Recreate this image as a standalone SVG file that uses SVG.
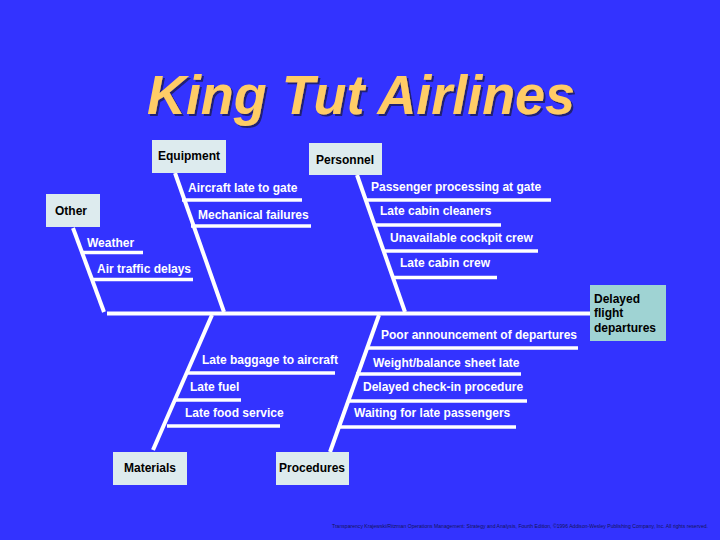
<svg xmlns="http://www.w3.org/2000/svg" width="720" height="540" viewBox="0 0 720 540">
<defs>
<filter id="shadow" x="-5%" y="-20%" width="110%" height="140%">
<feDropShadow dx="2" dy="2" stdDeviation="0.6" flood-color="#1a1a66" flood-opacity="0.9"/>
</filter>
<style>
.bg{fill:#3333FF}
.title{font-family:"Liberation Sans",Arial,sans-serif;font-size:55px;font-weight:bold;font-style:italic;fill:#FFCC66}
.cat rect{fill:#DDEBEE}
.eff rect{fill:#9FD3D3}
.lbl{font-family:"Liberation Sans",Arial,sans-serif;font-size:12px;font-weight:bold;fill:#000000}
.cause text{font-family:"Liberation Sans",Arial,sans-serif;font-size:12px;font-weight:bold;fill:#FFFFFF}
.cause line{stroke:#FFFFFF;stroke-width:3.5}
.bone{stroke:#FFFFFF;stroke-width:4;fill:none}
.foot{font-family:"Liberation Sans",Arial,sans-serif;font-size:5px;fill:#14145a}
</style>
</defs>
<rect class="bg" x="0" y="0" width="720" height="540"/>

<g id="title">
<text class="title" x="147" y="113.5" textLength="428" lengthAdjust="spacingAndGlyphs" filter="url(#shadow)">King Tut Airlines</text>
</g>

<g id="connectors">
<line class="bone" x1="107" y1="313.5" x2="590" y2="313.5"/>
<line class="bone" x1="73" y1="228" x2="104" y2="312"/>
<line class="bone" x1="175" y1="173" x2="224" y2="312"/>
<line class="bone" x1="357" y1="175" x2="405" y2="312"/>
<line class="bone" x1="212" y1="315" x2="153" y2="450"/>
<line class="bone" x1="379" y1="315" x2="330" y2="452"/>
</g>

<g id="cat-equipment" class="cat">
<rect x="152" y="140" width="74" height="33"/>
<text class="lbl" x="158" y="160">Equipment</text>
</g>
<g id="cat-personnel" class="cat">
<rect x="309" y="143" width="73" height="32"/>
<text class="lbl" x="316" y="164">Personnel</text>
</g>
<g id="cat-other" class="cat">
<rect x="46" y="194" width="54" height="33"/>
<text class="lbl" x="55" y="215">Other</text>
</g>
<g id="cat-materials" class="cat">
<rect x="113" y="452" width="74" height="33"/>
<text class="lbl" x="124" y="472">Materials</text>
</g>
<g id="cat-procedures" class="cat">
<rect x="276" y="452" width="73" height="33"/>
<text class="lbl" x="279" y="472">Procedures</text>
</g>

<g id="effect" class="eff">
<rect x="590" y="285" width="76" height="56"/>
<text class="lbl" x="594" y="303">Delayed</text>
<text class="lbl" x="594" y="317">flight</text>
<text class="lbl" x="594" y="331.5">departures</text>
</g>

<g id="c-aircraft-late" class="cause">
<line x1="182" y1="200" x2="302" y2="200"/>
<text x="188" y="192">Aircraft late to gate</text>
</g>
<g id="c-mechanical" class="cause">
<line x1="191" y1="226" x2="311" y2="226"/>
<text x="198" y="219">Mechanical failures</text>
</g>
<g id="c-weather" class="cause">
<line x1="82" y1="252.5" x2="143" y2="252.5"/>
<text x="87" y="247">Weather</text>
</g>
<g id="c-air-traffic" class="cause">
<line x1="92" y1="279.5" x2="193" y2="279.5"/>
<text x="97" y="273">Air traffic delays</text>
</g>
<g id="c-passenger" class="cause">
<line x1="365" y1="200" x2="551" y2="200"/>
<text x="371" y="191">Passenger processing at gate</text>
</g>
<g id="c-cleaners" class="cause">
<line x1="374" y1="225" x2="501" y2="225"/>
<text x="380" y="215">Late cabin cleaners</text>
</g>
<g id="c-cockpit" class="cause">
<line x1="383" y1="251" x2="538" y2="251"/>
<text x="390" y="242">Unavailable cockpit crew</text>
</g>
<g id="c-cabin-crew" class="cause">
<line x1="392" y1="277.5" x2="497" y2="277.5"/>
<text x="400" y="267">Late cabin crew</text>
</g>
<g id="c-poor-announcement" class="cause">
<line x1="366" y1="348" x2="578" y2="348"/>
<text x="381" y="339">Poor announcement of departures</text>
</g>
<g id="c-weight" class="cause">
<line x1="356" y1="374" x2="521" y2="374"/>
<text x="373" y="367">Weight/balance sheet late</text>
</g>
<g id="c-checkin" class="cause">
<line x1="347" y1="401" x2="527" y2="401"/>
<text x="363" y="391">Delayed check-in procedure</text>
</g>
<g id="c-waiting" class="cause">
<line x1="338" y1="427" x2="516" y2="427"/>
<text x="354" y="417">Waiting for late passengers</text>
</g>
<g id="c-baggage" class="cause">
<line x1="187" y1="373" x2="335" y2="373"/>
<text x="202" y="364">Late baggage to aircraft</text>
</g>
<g id="c-fuel" class="cause">
<line x1="176" y1="400" x2="241" y2="400"/>
<text x="190" y="391">Late fuel</text>
</g>
<g id="c-food" class="cause">
<line x1="167" y1="426" x2="280" y2="426"/>
<text x="185" y="417">Late food service</text>
</g>

<g id="footer">
<text class="foot" x="332" y="528" textLength="376" lengthAdjust="spacingAndGlyphs">Transparency Krajewski/Ritzman Operations Management: Strategy and Analysis, Fourth Edition, ©1996 Addison-Wesley Publishing Company, Inc. All rights reserved.</text>
</g>
</svg>
